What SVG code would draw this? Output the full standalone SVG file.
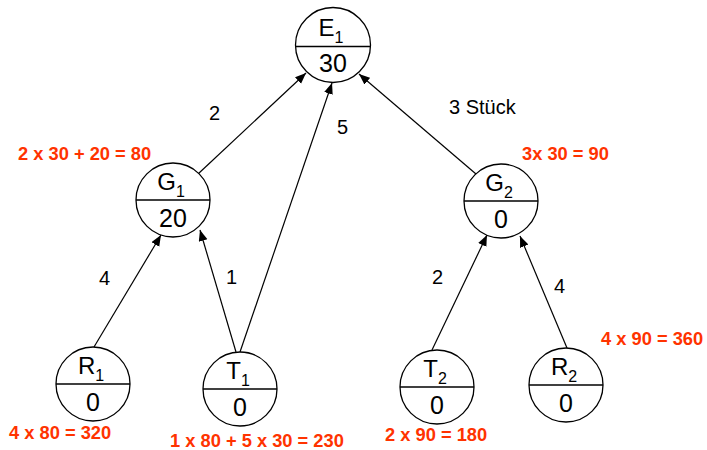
<svg xmlns="http://www.w3.org/2000/svg" width="707" height="450" viewBox="0 0 707 450">
  <defs>
    <style>
      .node circle { fill: #fff; stroke: #000; stroke-width: 1.3; }
      .node line { stroke: #000; stroke-width: 1.3; }
      .name { font-family: "Liberation Sans", Arial, sans-serif; font-size: 24px; fill: #000; text-anchor: middle; }
      .sub { font-size: 16px; }
      .val { font-family: "Liberation Sans", Arial, sans-serif; font-size: 25px; fill: #000; text-anchor: middle; }
      .edge { stroke: #000; stroke-width: 1.2; fill: none; marker-end: url(#arrow); }
      .lbl { font-family: "Liberation Sans", Arial, sans-serif; font-size: 20px; fill: #000; }
      .calc { font-family: "Liberation Sans", Arial, sans-serif; font-size: 18.3px; font-weight: bold; fill: #ff3300; }
    </style>
    <marker id="arrow" markerUnits="userSpaceOnUse" markerWidth="12" markerHeight="10" refX="11" refY="4.5" orient="auto">
      <path d="M0,0 L11,4.5 L0,9 Z" fill="#000"/>
    </marker>
  </defs>
  <rect width="707" height="450" fill="#fff"/>

  <!-- connectors -->
  <g id="connectors">
    <line class="edge" x1="198" y1="174" x2="306" y2="73"/>
    <line class="edge" x1="240" y1="352" x2="332" y2="83"/>
    <line class="edge" x1="476" y1="174" x2="359" y2="74"/>
    <line class="edge" x1="94" y1="347" x2="161" y2="235"/>
    <line class="edge" x1="236" y1="352" x2="200" y2="230"/>
    <line class="edge" x1="432" y1="350" x2="487" y2="235"/>
    <line class="edge" x1="567" y1="348" x2="520" y2="236"/>
    <text class="lbl" x="209" y="120">2</text>
    <text class="lbl" x="337" y="134">5</text>
    <text class="lbl" x="449" y="114">3 Stück</text>
    <text class="lbl" x="99" y="285">4</text>
    <text class="lbl" x="226" y="284">1</text>
    <text class="lbl" x="432" y="284">2</text>
    <text class="lbl" x="554" y="293">4</text>
  </g>

  <!-- nodes -->
  <g id="E1" class="node" transform="translate(333,45)">
    <circle r="37.5"/>
    <line x1="-37.5" y1="1.5" x2="37.5" y2="1.5"/>
    <text class="name" x="-2" y="-9">E<tspan class="sub" dy="7">1</tspan></text>
    <text class="val" y="27">30</text>
  </g>
  <g id="G1" class="node" transform="translate(173,200)">
    <circle r="37"/>
    <line x1="-37" y1="0" x2="37" y2="0"/>
    <text class="name" x="-2" y="-10">G<tspan class="sub" dy="7">1</tspan></text>
    <text class="val" y="27">20</text>
  </g>
  <g id="G2" class="node" transform="translate(501,201)">
    <circle r="37"/>
    <line x1="-37" y1="0" x2="37" y2="0"/>
    <text class="name" x="-2" y="-10">G<tspan class="sub" dy="7">2</tspan></text>
    <text class="val" y="27">0</text>
  </g>
  <g id="R1" class="node" transform="translate(93,384)">
    <circle r="37"/>
    <line x1="-37" y1="0" x2="37" y2="0"/>
    <text class="name" x="-2" y="-10">R<tspan class="sub" dy="7">1</tspan></text>
    <text class="val" y="27">0</text>
  </g>
  <g id="T1" class="node" transform="translate(240,389)">
    <circle r="37"/>
    <line x1="-37" y1="0" x2="37" y2="0"/>
    <text class="name" x="-2" y="-10">T<tspan class="sub" dy="7">1</tspan></text>
    <text class="val" y="27">0</text>
  </g>
  <g id="T2" class="node" transform="translate(437,387)">
    <circle r="37"/>
    <line x1="-37" y1="0" x2="37" y2="0"/>
    <text class="name" x="-2" y="-10">T<tspan class="sub" dy="7">2</tspan></text>
    <text class="val" y="27">0</text>
  </g>
  <g id="R2" class="node" transform="translate(566,385)">
    <circle r="37"/>
    <line x1="-37" y1="0" x2="37" y2="0"/>
    <text class="name" x="-2" y="-10">R<tspan class="sub" dy="7">2</tspan></text>
    <text class="val" y="27">0</text>
  </g>

  <!-- calculations -->
  <g id="calculations">
    <text class="calc" x="18" y="160">2 x 30 + 20 = 80</text>
    <text class="calc" x="522" y="160">3x 30 = 90</text>
    <text class="calc" x="601" y="345">4 x 90 = 360</text>
    <text class="calc" x="9" y="439">4 x 80 = 320</text>
    <text class="calc" x="170" y="447">1 x 80 + 5 x 30 = 230</text>
    <text class="calc" x="385" y="441">2 x 90 = 180</text>
  </g>
</svg>
